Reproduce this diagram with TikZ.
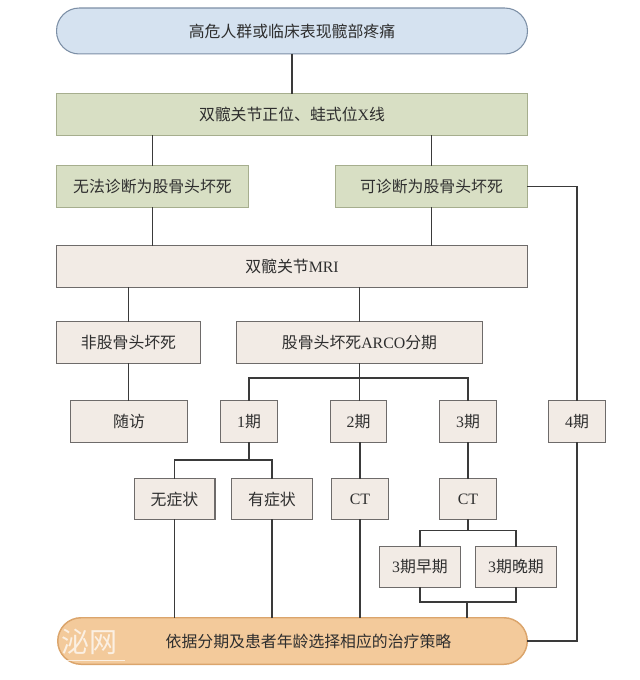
\documentclass[tikz,border=0pt]{standalone}
\usepackage{fontspec}
\setmainfont{Liberation Serif}
\newfontfamily\cjk{Noto Sans CJK SC}
\usetikzlibrary{calc}
\definecolor{cblue}{HTML}{D5E2F0}
\definecolor{bblue}{HTML}{7C8FA6}
\definecolor{cgreen}{HTML}{D8DFC4}
\definecolor{bgreen}{HTML}{A6AE8E}
\definecolor{cbeige}{HTML}{F2EBE5}
\definecolor{bbeige}{HTML}{6E6B6A}
\definecolor{corange}{HTML}{F3CA9B}
\definecolor{borange}{HTML}{DBA56C}
\definecolor{cline}{HTML}{3A3A3A}
\definecolor{ctext}{HTML}{2E2E2E}
\newcommand{\bx}[6]{\node[#1,minimum width=#4*0.75pt-\pgflinewidth,minimum height=#5*0.75pt-\pgflinewidth] (#2) at (#3) {#6};}
\tikzset{
  x=0.75pt,y=-0.75pt,
  basebox/.style={rectangle,inner sep=0pt,outer sep=0pt,font=\cjk\fontsize{11.9pt}{14pt}\selectfont,text=ctext,line width=0.8pt},
  bluebox/.style={basebox,rounded corners=17pt,draw=bblue,fill=cblue},
  greenbox/.style={basebox,draw=bgreen,fill=cgreen},
  beigebox/.style={basebox,draw=bbeige,fill=cbeige},
  orangebox/.style={basebox,rounded corners=17.5pt,draw=borange,fill=corange,line width=1.1pt},
  link/.style={draw=cline,line width=1.2pt},
  wmark/.style={inner sep=0pt,outer sep=0pt,text=white,opacity=0.72,font=\cjk\fontsize{21pt}{24pt}\selectfont}
}
\begin{document}
\begin{tikzpicture}
\useasboundingbox (0,0) rectangle (639,680);
\bx{bluebox}{top}{292,31}{472}{47}{高危人群或临床表现髋部疼痛}
\bx{greenbox}{xray}{292,114.5}{472}{43}{双髋关节正位、蛙式位{\rmfamily X}线}
\bx{greenbox}{no}{152.5,186.5}{193}{43}{无法诊断为股骨头坏死}
\bx{greenbox}{yes}{431.5,186.5}{193}{43}{可诊断为股骨头坏死}
\bx{beigebox}{mri}{292,266.5}{472}{43}{双髋关节{\rmfamily MRI}}
\bx{beigebox}{non}{128.5,342.5}{145}{43}{非股骨头坏死}
\bx{beigebox}{arco}{359.5,342.5}{247}{43}{股骨头坏死{\rmfamily ARCO}分期}
\bx{beigebox}{fu}{129,421.5}{118}{42.5}{随访}
\bx{beigebox}{s1}{249,421.5}{57.5}{42.5}{{\rmfamily 1}期}
\bx{beigebox}{s2}{358.5,421.5}{57.5}{42.5}{{\rmfamily 2}期}
\bx{beigebox}{s3}{468,421.5}{57.5}{42.5}{{\rmfamily 3}期}
\bx{beigebox}{s4}{577,421.5}{58}{42.5}{{\rmfamily 4}期}
\bx{beigebox}{asym}{174.5,499}{82}{42}{无症状}
\bx{beigebox}{sym}{272,499}{82}{42}{有症状}
\bx{beigebox}{ct2}{360,499}{57.5}{42}{{\rmfamily CT}}
\bx{beigebox}{ct3}{468,499}{57.5}{42}{{\rmfamily CT}}
\bx{beigebox}{early}{420,567}{82}{41.5}{{\rmfamily 3}期早期}
\bx{beigebox}{late}{516,567}{82}{41.5}{{\rmfamily 3}期晚期}
\bx{orangebox}{tr}{292.5,641}{471}{48}{\hspace*{24pt}依据分期及患者年龄选择相应的治疗策略}
\node[wmark,anchor=east] (mark) at (117,642) {泌网};
\coordinate (markA) at (63,660);
\coordinate (markB) at (125,660);
\draw[white,opacity=0.7,line width=0.5pt] (markA) -- (markB);
% junctions
\coordinate (busA) at ($(arco.south)+(0,14.5)$);
\coordinate (busB) at (249,460);
\coordinate (busC) at (468,530.5);
\coordinate (busD) at (467,602);
\begin{scope}[link]
\draw (top) -- (xray);
\draw (no.north) -- (no.north |- xray.south);
\draw (yes.north) -- (yes.north |- xray.south);
\draw (no.south) -- (no.south |- mri.north);
\draw (yes.south) -- (yes.south |- mri.north);
\draw (yes.east) -| (s4.north);
\draw (non.north) -- (non.north |- mri.south);
\draw (arco.north) -- (arco.north |- mri.south);
\draw (non.south) -- (non.south |- fu.north);
\draw (arco.south) -- (arco.south |- s1.north);
\draw (s1.north) |- (busA) -| (s3.north);
\draw (s1.south) -- (busB);
\draw (asym.north) |- (busB) -| (sym.north);
\draw (ct2.north) -- (ct2.north |- s2.south);
\draw (s3.south) -- (ct3.north);
\draw (ct3.south) -- (busC);
\draw (early.north) |- (busC) -| (late.north);
\draw (early.south) |- (busD) -| (late.south);
\draw (busD) -- (busD |- tr.north);
\draw (asym.south) -- (asym.south |- tr.north);
\draw (sym.south) -- (sym.south |- tr.north);
\draw (ct2.south) -- (ct2.south |- tr.north);
\draw (s4.south) |- (tr.east);
\end{scope}
\end{tikzpicture}
\end{document}
